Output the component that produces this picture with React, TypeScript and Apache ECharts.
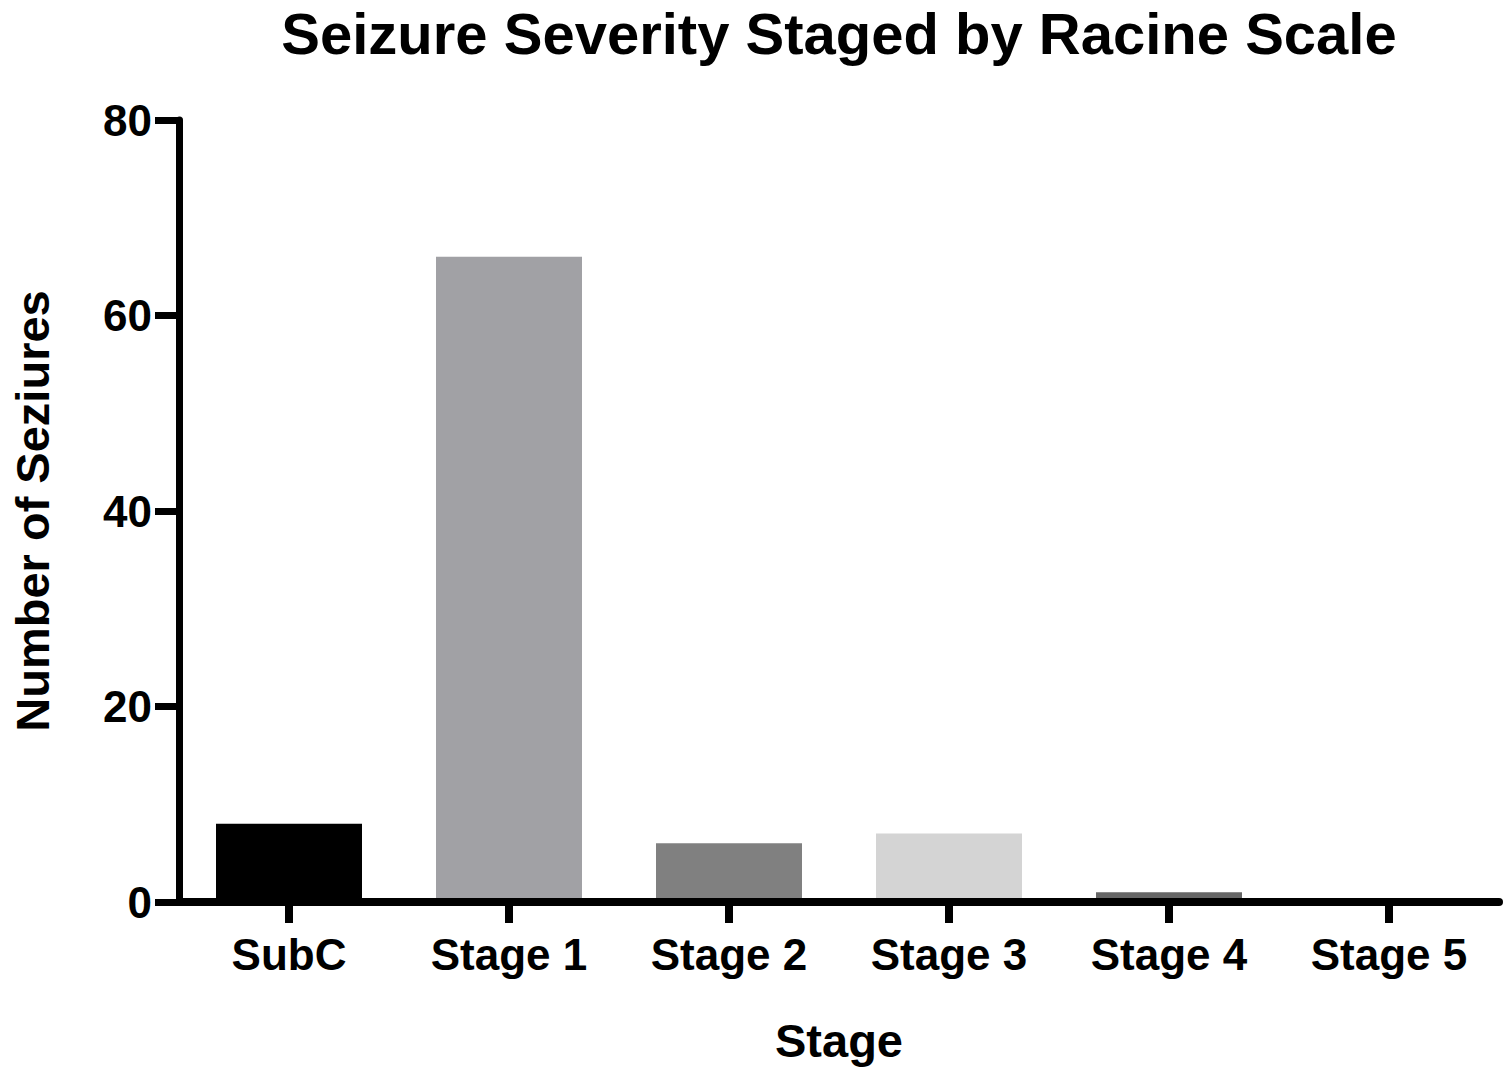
import React, { useEffect, useRef } from "react";
import * as echarts from "echarts";

const categories = ["SubC", "Stage 1", "Stage 2", "Stage 3", "Stage 4", "Stage 5"];
const values = [8, 66, 6, 7, 1, 0];
const barColors = ["#000000", "#a1a1a5", "#808080", "#d4d4d4", "#666666", "#666666"];
const yTicks = { min: 0, max: 80, interval: 20 };

const FONT = "'Liberation Sans', Arial, sans-serif";

export default function App() {
  const ref = useRef<HTMLDivElement>(null);
  useEffect(() => {
    document.body.style.margin = "0";
    if (!ref.current) return;
    const chart = echarts.init(ref.current, undefined, { renderer: "svg" });
    chart.setOption({
      animation: false,
      backgroundColor: "#ffffff",
      title: {
        text: "Seizure Severity Staged by Racine Scale",
        left: 839,
        textAlign: "center",
        top: 0,
        padding: 0,
        textStyle: { fontFamily: FONT, fontWeight: "bold", fontSize: 58, lineHeight: 66, color: "#000" },
      },
      grid: { left: 179, top: 120, width: 1320, height: 782, containLabel: false },
      xAxis: {
        type: "category",
        data: categories,
        z: 3,
        name: "Stage",
        nameLocation: "middle",
        nameGap: 115,
        nameTextStyle: { fontFamily: FONT, fontWeight: "bold", fontSize: 47, color: "#000" },
        axisLine: { show: true, lineStyle: { color: "#000", width: 8 } },
        axisTick: { show: true, alignWithLabel: true, length: 21, lineStyle: { color: "#000", width: 8 } },
        axisLabel: { fontFamily: FONT, fontWeight: "bold", fontSize: 44, color: "#000", margin: 30 },
        splitLine: { show: false },
      },
      yAxis: {
        type: "value",
        min: yTicks.min,
        max: yTicks.max,
        interval: yTicks.interval,
        name: "Number of Seziures",
        nameLocation: "middle",
        nameGap: 123,
        nameRotate: 90,
        nameTextStyle: { fontFamily: FONT, fontWeight: "bold", fontSize: 47, color: "#000" },
        axisLine: { show: true, lineStyle: { color: "#000", width: 7 } },
        axisTick: { show: true, length: 24, lineStyle: { color: "#000", width: 7 } },
        axisLabel: { fontFamily: FONT, fontWeight: "bold", fontSize: 44, color: "#000", margin: 27 },
        splitLine: { show: false },
      },
      series: [
        {
          type: "bar",
          barWidth: 146,
          data: values.map((v, i) => ({ value: v, itemStyle: { color: barColors[i] } })),
        },
      ],
    });
    return () => chart.dispose();
  }, []);
  return <div ref={ref} style={{ width: 1505, height: 1074 }} />;
}
